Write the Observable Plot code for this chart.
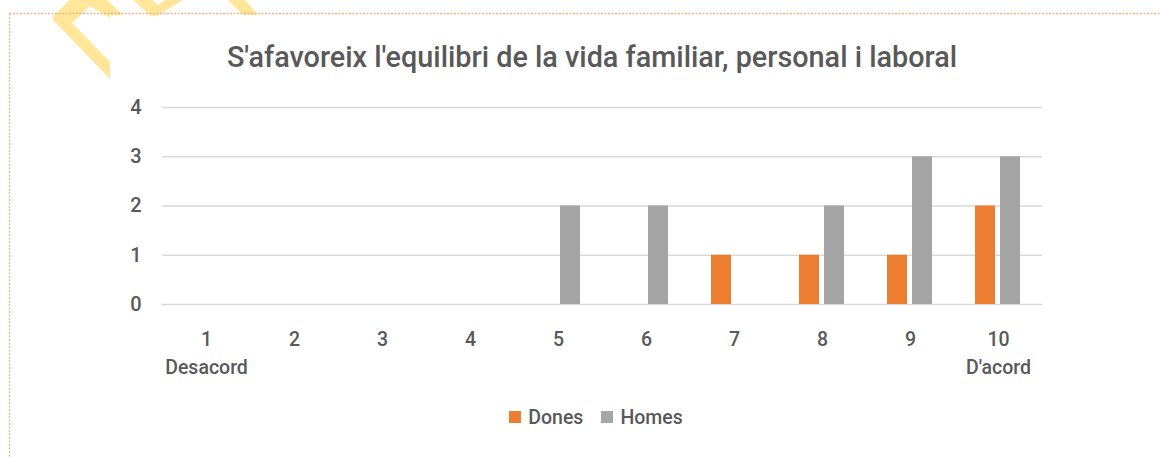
<!DOCTYPE html>
<html>
<head>
<meta charset="utf-8">
<script src="https://cdn.jsdelivr.net/npm/d3@7"></script>
<script src="https://cdn.jsdelivr.net/npm/@observablehq/plot@0.6"></script>
<style>
  html, body { margin: 0; padding: 0; background: #fff; }
  body { width: 1161px; height: 457px; position: relative; overflow: hidden; font-family: Roboto, "Open Sans", sans-serif; color: #595959; font-weight: 500; }
  #deco { position: absolute; left: 0; top: 0; z-index: 3; pointer-events: none; }
  #title { position: absolute; left: 92px; width: 1000px; top: 40px; text-align: center; font-size: 28.8px; line-height: 34px; color: #595959; white-space: nowrap; font-weight: 500; }
  #chart { position: absolute; left: 0; top: 90px; }
  #chart svg text { font-weight: 500; }
  #legend { position: absolute; left: 0; width: 1192px; top: 405px; text-align: center; font-size: 19.5px; color: #595959; }
  #legend span.item { display: inline-flex; align-items: center; margin: 0 9px; }
  #legend span.sw { display: inline-block; width: 12px; height: 12px; margin-right: 7px; }
</style>
</head>
<body>
<svg id="deco" width="1161" height="457">
  <g fill="#ffe699" fill-rule="evenodd">
    <path d="M70,0 L107,0 L123,15 L110,15 L110,79 L53,20 L53,16 Z M72,23 L110,62 L110,18 L90,6 Z"/>
    <path d="M133,0 L183,0 L157,16 L151,16 Z M152,0 L165,0 L158,5 Z"/>
    <path d="M228,0 L245,0 L258,15 L243,15 Z"/>
  </g>
  <line x1="9.5" y1="13.5" x2="1161" y2="13.5" stroke="#f4b183" stroke-width="1.3" stroke-dasharray="2,1.5"/>
  <line x1="9.5" y1="13.5" x2="9.5" y2="457" stroke="#f4b183" stroke-width="1.3" stroke-dasharray="2,1.5"/>
</svg>
<div id="title">S'afavoreix l'equilibri de la vida familiar, personal i laboral</div>
<div id="chart"></div>
<div id="legend"></div>
<script>
const categories = ["1", "2", "3", "4", "5", "6", "7", "8", "9", "10"];
const tickLabels = ["1\nDesacord", "2", "3", "4", "5", "6", "7", "8", "9", "10\nD'acord"];
const series = ["Dones", "Homes"];
const colors = ["#ED7D31", "#A5A5A5"];
const dones = [0, 0, 0, 0, 0, 0, 1, 1, 1, 2];
const homes = [0, 0, 0, 0, 2, 2, 0, 2, 3, 3];
const yTicks = [0, 1, 2, 3, 4];

const rows = categories.map((c, i) => ({cat: c, dones: dones[i], homes: homes[i]}));
const labelOf = new Map(categories.map((c, i) => [c, tickLabels[i]]));

const chart = Plot.plot({
  width: 1161,
  height: 304,
  marginLeft: 162,
  marginRight: 119,
  marginTop: 17,
  marginBottom: 90,
  style: {fontFamily: "Roboto, sans-serif", fontSize: "20px", color: "#595959", background: "transparent"},
  x: {domain: categories, padding: 0, label: null},
  y: {domain: [0, 4], label: null},
  marks: [
    Plot.gridY(yTicks, {stroke: "#d9d9d9", strokeOpacity: 1, strokeWidth: 1.5}),
    Plot.barY(rows, {x: "cat", y: "dones", fill: colors[0], insetLeft: 21, insetRight: 47}),
    Plot.barY(rows, {x: "cat", y: "homes", fill: colors[1], insetLeft: 46, insetRight: 22}),
    Plot.axisY(yTicks, {tickSize: 0, tickPadding: 21, fill: "#595959", fontSize: 20, label: null}),
    Plot.axisX({tickSize: 0, tickPadding: 21, fill: "#595959", fontSize: 19.5, lineHeight: 1.45, tickFormat: d => labelOf.get(d), label: null})
  ]
});
document.getElementById("chart").appendChild(chart);

const legend = document.getElementById("legend");
series.forEach((s, i) => {
  const item = document.createElement("span");
  item.className = "item";
  const sw = document.createElement("span");
  sw.className = "sw";
  sw.style.background = colors[i];
  item.appendChild(sw);
  item.appendChild(document.createTextNode(s));
  legend.appendChild(item);
});
</script>
</body>
</html>
